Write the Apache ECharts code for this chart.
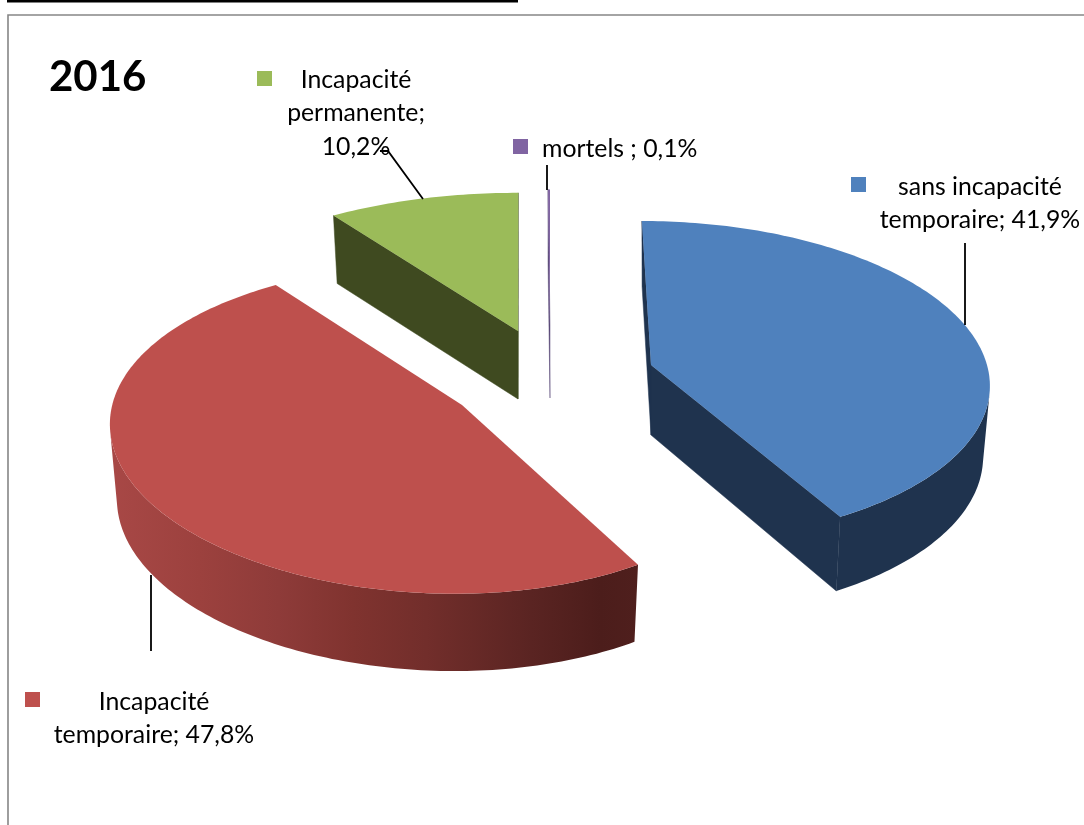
<!DOCTYPE html>
<html>
<head>
<meta charset="utf-8">
<style>html,body{margin:0;padding:0;background:#fff}#c{width:1084px;height:825px}</style>
<script src="https://cdn.jsdelivr.net/npm/echarts@6/dist/echarts.min.js"></script>
</head>
<body>
<div id="c"></div>
<script>
// ---- data ----
var chartTitle = '2016';
var categories = ['sans incapacité\ntemporaire', 'Incapacité\ntemporaire', 'Incapacité\npermanente', 'mortels '];
var separators = ['; ', '; ', ';\n', '; '];
var percents = [41.9, 47.8, 10.2, 0.1];

// ---- styling ----
var topColors = ['#4f81bd', '#be504d', '#9bbb59', '#8064a2'];
var wallColors = ['#1f334e', '#4a1c1a', '#3f4a20', '#5a4a78'];
var redWallStops = [[0, '#a84846'], [0.17, '#9c413e'], [0.32, '#8e3b39'], [0.46, '#80332f'], [0.6, '#722e2b'], [0.8, '#5a2422'], [0.93, '#4c1d1b'], [1, '#4f1f1d']];
var FONT = '"Lato","Noto Sans",sans-serif';
var textFont = '24.8px ' + FONT;

// ---- layout: one perspective projection per exploded slice ----
// A,B radii; k perspective; S shear; T tilt; dx arc centre shift; s0,s1 angle correction at the two ends;
// D wall height, dk wall perspective
var geometry = [
  { A: 336, B: 158.5, k: 0.101, S: -10, T: 0,   dx: 0,   s0: 0,   s1: 0,   D: 70, dk: 0.065 },
  { A: 323, B: 160,   k: 0.15,  S: -40, T: -15, dx: -29, s0: 3.2, s1: 10.9, D: 75, dk: 0.03 },
  { A: 351, B: 152,   k: 0.1,   S: 0,   T: 0,   dx: 0,   s0: 2.4, s1: 0.4, D: 68, dk: 0 },
  { A: 349, B: 149,   k: 0.1,   S: 0,   T: 0,   dx: 0,   s0: 0,   s1: 0,   D: 73, dk: 0 }
];
var BASE_SCALE = 0.98;
var apex = [[651, 365], [462, 405], [518, 331], [550, 325]];
var squares = [[851, 177], [25, 692], [257, 71], [513, 139]];
var labelAt = [[980, 170], [154, 685], [356, 63], [542, 132]];
var labelAlign = ['center', 'center', 'center', 'left'];
var leaders = [
  [[965, 243], [965, 325]],
  [[151, 575], [151, 651]],
  [[380, 151], [388, 151], [423, 199]],
  [[547, 165], [547, 190]]
];

function project(idx, deg) {
  var g = geometry[idx], th = deg * Math.PI / 180;
  var u = Math.sin(th), v = Math.cos(th), d = 1 + g.k * v;
  var x = (g.A * u + g.S * v) / d + g.dx, y = -g.B * v / d + g.T * u;
  return {
    top: [apex[idx][0] + x, apex[idx][1] + y],
    bot: [apex[idx][0] + BASE_SCALE * x, apex[idx][1] + y + g.D / (1 + g.dk * v)]
  };
}

// a wall along the edge p->q of the clockwise top face shows only if its outward side faces the viewer
function edgeVisible(p, q, pb) {
  var nx = q[1] - p[1], ny = -(q[0] - p[0]);
  return nx * (pb[0] - p[0]) + ny * (pb[1] - p[1]) > 0;
}

function renderSlice(params, api) {
  var i = params.dataIndex, g = geometry[i];
  var start = 0;
  for (var k = 0; k < i; k++) start += percents[k] * 3.6;
  var a0 = start + g.s0, a1 = start + api.value(0) * 3.6 + g.s1;
  var topArc = [], botArc = [], n = Math.max(2, Math.ceil(a1 - a0));
  for (var s = 0; s <= n; s++) {
    var p = project(i, a0 + (a1 - a0) * s / n);
    topArc.push(p.top); botArc.push(p.bot);
  }
  var ax = apex[i], axBot = [ax[0], ax[1] + g.D];
  var wall = wallColors[i];
  var arcFill = i === 1 ? {
    type: 'linear', x: 110, y: 0, x2: 637, y2: 0, global: true,
    colorStops: redWallStops.map(function (c) { return { offset: c[0], color: c[1] }; })
  } : wall;

  var kids = [];
  if (edgeVisible(ax, topArc[0], axBot)) {
    kids.push({ type: 'polygon', shape: { points: [ax, topArc[0], botArc[0], axBot] }, style: { fill: wall, stroke: wall, lineWidth: 0.5 } });
  }
  if (edgeVisible(topArc[n], ax, botArc[n])) {
    kids.push({ type: 'polygon', shape: { points: [ax, topArc[n], botArc[n], axBot] }, style: { fill: wall, stroke: wall, lineWidth: 0.5 } });
  }
  var visTop = [], visBot = [];
  for (var q = 0; q < n; q++) {
    if (edgeVisible(topArc[q], topArc[q + 1], botArc[q])) {
      if (!visTop.length) { visTop.push(topArc[q]); visBot.push(botArc[q]); }
      visTop.push(topArc[q + 1]); visBot.push(botArc[q + 1]);
    }
  }
  if (visTop.length) {
    kids.push({ type: 'polygon', shape: { points: visTop.concat(visBot.reverse()) }, style: { fill: arcFill } });
  }
  kids.push(
    { type: 'polygon', shape: { points: [ax].concat(topArc) }, style: { fill: topColors[i] } },
    { type: 'polyline', shape: { points: leaders[i] }, style: { stroke: '#000', lineWidth: 1.8, fill: null } },
    { type: 'rect', shape: { x: squares[i][0], y: squares[i][1], width: 15, height: 15 }, style: { fill: topColors[i] } },
    { type: 'text', style: {
        x: labelAt[i][0], y: labelAt[i][1], align: labelAlign[i], verticalAlign: 'top',
        text: categories[i] + separators[i] + String(percents[i]).replace('.', ',') + '%',
        font: textFont, fill: '#000', lineHeight: 33.5
    } }
  );
  return { type: 'group', children: kids };
}

var chart = echarts.init(document.getElementById('c'), null, { renderer: 'canvas' });
chart.setOption({
  backgroundColor: '#fff',
  animation: false,
  title: { text: chartTitle, left: 49, top: 56, padding: 0, textStyle: { fontFamily: FONT, fontWeight: 'bold', fontSize: 42, color: '#000' } },
  graphic: [
    { type: 'rect', shape: { x: 7, y: 0, width: 511, height: 2.5 }, style: { fill: '#000' } },
    { type: 'polyline', shape: { points: [[8, 825], [8, 15], [1084, 15]] }, style: { stroke: '#868686', lineWidth: 1.6, fill: null } }
  ],
  series: [{
    type: 'custom',
    coordinateSystem: 'none',
    renderItem: renderSlice,
    silent: true,
    data: percents.map(function (v, i) { return { name: categories[i], value: [v] }; })
  }]
});
</script>
</body>
</html>
